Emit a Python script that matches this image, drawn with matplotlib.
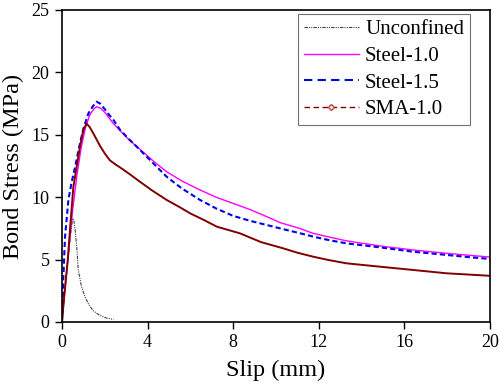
import matplotlib
matplotlib.use("Agg")
import matplotlib.pyplot as plt
from matplotlib.lines import Line2D

plt.rcParams['font.family'] = ['Liberation Serif', 'DejaVu Serif']

# Unconfined
unc_s = [0, 0.1, 0.25, 0.4, 0.5, 0.55, 0.62, 0.69, 0.76, 0.9, 1.07, 1.25, 1.46, 1.7, 2.0, 2.2, 2.4]
unc_v = [0, 2.0, 4.5, 7.0, 8.3, 8.2, 7.3, 6.0, 4.2, 2.9, 2.03, 1.4, 0.9, 0.6, 0.35, 0.28, 0.2]

# Steel-1.0
st10_s = [0, 0.06, 0.15, 0.3, 0.5, 0.7, 0.9, 1.1, 1.3, 1.5, 1.62, 1.78, 2.0, 2.2, 2.4, 2.65, 2.9, 3.1, 3.33, 3.8,
          4.3, 4.89, 5.6, 6.45, 7.2, 8.0, 8.8, 9.57, 10.19, 11.1, 11.74, 12.5, 13.3, 14.86, 16.4, 17.98, 19.0, 20.0]
st10_v = [0, 1.2, 2.8, 5.5, 9.0, 11.8, 14.0, 15.6, 16.6, 17.1, 17.25, 17.15, 16.8, 16.35, 15.9, 15.45, 15.0, 14.65, 14.3, 13.6,
          12.85, 12.04, 11.3, 10.58, 10.0, 9.5, 9.0, 8.44, 7.96, 7.5, 7.1, 6.8, 6.5, 6.09, 5.77, 5.5, 5.35, 5.2]

# Steel-1.5
st15_s = [0, 0.03, 0.06, 0.14, 0.3, 0.45, 0.61, 0.8, 1.0, 1.23, 1.45, 1.62, 1.78, 2.0, 2.2, 2.4, 2.71, 3.1,
          3.49, 4.11, 4.89, 5.6, 6.45, 7.2, 8.0, 8.8, 9.57, 10.19, 11.1, 11.74, 12.5, 13.3, 14.86, 16.4, 17.98, 19.0, 20.0]
st15_v = [0, 1.5, 3.4, 6.8, 9.8, 11.2, 12.4, 14.0, 15.5, 16.7, 17.3, 17.65, 17.5, 17.05, 16.6, 16.2, 15.4, 14.7,
          14.05, 12.98, 11.64, 10.7, 9.78, 9.1, 8.5, 8.1, 7.77, 7.5, 7.12, 6.84, 6.55, 6.3, 5.98, 5.63, 5.37, 5.2, 5.05]

# SMA-1.0
sma_s = [0, 0.1, 0.27, 0.4, 0.53, 0.7, 0.84, 1.0, 1.15, 1.3, 1.5, 1.78, 2.0, 2.24, 2.48, 2.87, 3.2, 3.64,
         4.2, 4.89, 5.5, 5.98, 6.6, 7.23, 8.32, 9.3, 10.34, 11.0, 11.74, 12.5, 13.3, 14.86, 16.4, 17.98, 19.0, 20.0]
sma_v = [0, 2.0, 5.0, 8.0, 10.8, 12.6, 14.05, 15.4, 15.9, 15.6, 15.0, 14.1, 13.5, 12.95, 12.65, 12.2, 11.8, 11.24,
         10.55, 9.78, 9.2, 8.71, 8.2, 7.64, 7.1, 6.4, 5.9, 5.55, 5.23, 4.95, 4.7, 4.43, 4.17, 3.9, 3.8, 3.7]

labels = ['Unconfined', 'Steel-1.0', 'Steel-1.5', 'SMA-1.0']
xticks = [0, 4, 8, 12, 16, 20]
yticks = [0, 5, 10, 15, 20, 25]

fig = plt.figure(figsize=(5.0, 3.84), dpi=100)
ax = fig.add_axes([0.124, 0.1615, 0.856, 0.8125])

unc_ls = (0, (3, 1, 1, 1, 1, 1))
ax.plot(unc_s, unc_v, color='#404040', lw=0.8, ls=unc_ls)
ax.plot(st10_s, st10_v, color='#FF00FF', lw=1.0)
ax.plot(st15_s, st15_v, color='#0000EE', lw=1.5, ls=(0, (2.5, 1.5)))
ax.plot(sma_s, sma_v, color='#800000', lw=1.4)

ax.set_xlim(0, 20)
ax.set_ylim(0, 25)
ax.set_xticks(xticks)
ax.set_yticks(yticks)
ax.tick_params(direction='out', length=5, width=1, labelsize=13, top=False, right=False, pad=4)
for sp in ax.spines.values():
    sp.set_linewidth(1.2)

ax.set_xlabel('Slip (mm)', fontsize=17.5, labelpad=6)
ax.set_ylabel('Bond Stress (MPa)', fontsize=17.5, labelpad=5)

handles = [
    Line2D([], [], color='#404040', lw=0.8, ls=unc_ls),
    Line2D([], [], color='#FF00FF', lw=1.0),
    Line2D([], [], color='#0000EE', lw=1.5, ls=(0, (4, 2.5))),
    Line2D([], [], color='#800000', lw=1.0, ls=(0, (4, 2.5)), marker='D', markersize=3,
           markerfacecolor='white', markeredgecolor='#C04040', markevery=[1]),
]
leg = ax.legend(handles, labels, loc='upper right', bbox_to_anchor=(0.953, 0.987),
                fontsize=15, frameon=True, fancybox=False, framealpha=1, edgecolor='#707070',
                handlelength=2.65, handletextpad=0.3, labelspacing=0.34, borderpad=0.28,
                borderaxespad=0)
leg.get_frame().set_linewidth(0.8)

fig.savefig('out.png', dpi=100)
